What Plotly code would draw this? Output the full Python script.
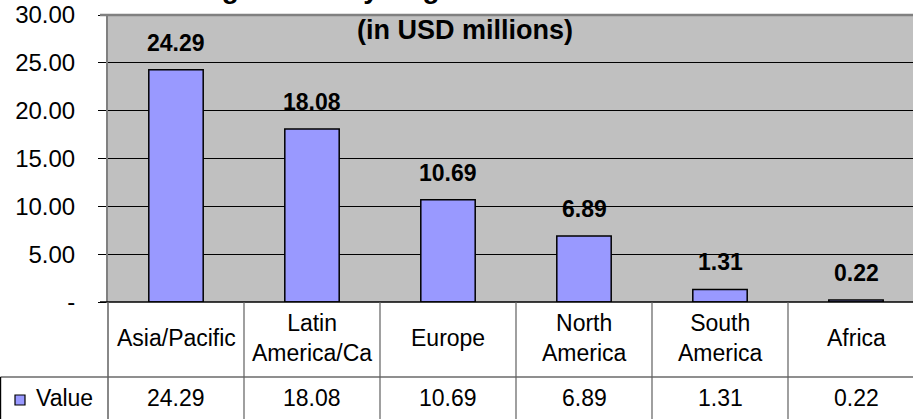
import plotly.graph_objects as go

# ---- data ----
categories = ["Asia/Pacific", "Latin America/Ca", "Europe", "North America", "South America", "Africa"]
table_labels = ["Asia/Pacific", "Latin<br>America/Ca", "Europe", "North<br>America", "South<br>America", "Africa"]
values = [24.29, 18.08, 10.69, 6.89, 1.31, 0.22]
series_name = "Value"
y_tickvals = [0, 5, 10, 15, 20, 25, 30]
y_ticktext = ["-", "5.00", "10.00", "15.00", "20.00", "25.00", "30.00"]
title_line1 = "Venture Funding Raised by Region"
title_line2 = "(in USD millions)"

# ---- layout constants (pixels) ----
W, H = 913, 419
L, T = 108, 15
PLOT_BOTTOM = 302
B = H - PLOT_BOTTOM
PW = W - L
PH = PLOT_BOTTOM - T
COL_W = 136.0
ROW1_BOTTOM = 377

FONT = "Liberation Sans, Arial, sans-serif"
BAR_COLOR = "#9999FF"
TABLE_LINE = "#606060"

def py(pix):
    """pixel y (from top) -> paper y"""
    return (PLOT_BOTTOM - pix) / PH

def px(pix):
    """pixel x (from left) -> paper x"""
    return (pix - L) / PW

xs = list(range(len(categories)))

fig = go.Figure()
fig.add_trace(go.Bar(
    x=xs, y=values, width=0.4,
    marker=dict(color=BAR_COLOR, line=dict(color="black", width=1.5)),
    name=series_name, showlegend=False, hoverinfo="skip",
))

annotations = []
# data labels
for xi, v in zip(xs, values):
    annotations.append(dict(
        x=xi, y=v, xref="x", yref="y", text=f"<b>{v:.2f}</b>", showarrow=False,
        yanchor="bottom", xanchor="center", yshift=12,
        font=dict(family=FONT, size=23, color="black")))
# table category row
for xi, lab in zip(xs, table_labels):
    annotations.append(dict(
        x=xi, y=py((PLOT_BOTTOM + ROW1_BOTTOM) / 2 - 1.5), xref="x", yref="paper", text=lab,
        showarrow=False, yanchor="middle", xanchor="center",
        font=dict(family=FONT, size=23, color="black")))
# table value row
for xi, v in zip(xs, values):
    annotations.append(dict(
        x=xi, y=py(398), xref="x", yref="paper", text=f"{v:.2f}",
        showarrow=False, yanchor="middle", xanchor="center",
        font=dict(family=FONT, size=23, color="black")))
# legend text in table
annotations.append(dict(
    x=px(34), y=py(398), xref="paper", yref="paper", text=series_name,
    showarrow=False, yanchor="middle", xanchor="left",
    font=dict(family=FONT, size=23, color="black")))
# titles
annotations.append(dict(
    x=px(16), y=1, xref="paper", yref="paper", text=f"<b>{title_line1}</b>",
    showarrow=False, yanchor="bottom", xanchor="left", yshift=9,
    font=dict(family=FONT, size=28, color="black")))
annotations.append(dict(
    x=px(465), y=1, xref="paper", yref="paper", text=f"<b>{title_line2}</b>",
    showarrow=False, yanchor="top", xanchor="center", yshift=2,
    font=dict(family=FONT, size=27, color="black")))

shapes = []
# top border of plot area
shapes.append(dict(type="line", xref="paper", yref="paper", x0=px(100), x1=1.01, y0=1, y1=1,
                   line=dict(color="#808080", width=2.5)))
# table horizontal line between rows
shapes.append(dict(type="line", xref="paper", yref="paper", x0=px(0.5), x1=1.01,
                   y0=py(ROW1_BOTTOM), y1=py(ROW1_BOTTOM), line=dict(color="#202020", width=1.2)))
# zero line across table top
shapes.append(dict(type="line", xref="paper", yref="paper", x0=px(100), x1=1.01,
                   y0=0, y1=0, line=dict(color="black", width=1.3)))
# table vertical lines at category boundaries
for k in range(len(categories)):
    xb = k + 0.5
    shapes.append(dict(type="line", xref="x", yref="paper", x0=xb, x1=xb,
                       y0=0, y1=py(H + 5), line=dict(color=TABLE_LINE, width=1.2)))
# y-axis continuation into table
shapes.append(dict(type="line", xref="paper", yref="paper", x0=0, x1=0,
                   y0=0, y1=py(H + 5), line=dict(color=TABLE_LINE, width=1.5)))
# legend cell left border
shapes.append(dict(type="line", xref="paper", yref="paper", x0=px(0.6), x1=px(0.6),
                   y0=py(ROW1_BOTTOM), y1=py(H + 5), line=dict(color="black", width=1.2)))
# legend key
shapes.append(dict(type="rect", xref="paper", yref="paper", x0=px(15), x1=px(25),
                   y0=py(405), y1=py(395), fillcolor=BAR_COLOR, line=dict(color="black", width=1.2)))

fig.update_layout(
    width=W, height=H,
    margin=dict(l=L, r=0, t=T, b=B, pad=0),
    paper_bgcolor="white", plot_bgcolor="#C0C0C0",
    showlegend=False,
    font=dict(family=FONT, size=22, color="black"),
    bargap=0.6,
    annotations=annotations, shapes=shapes,
)
fig.update_xaxes(
    range=[-0.5, -0.5 + PW / COL_W], showticklabels=False, showgrid=False,
    zeroline=False, showline=False, ticks="", fixedrange=True,
)
fig.update_yaxes(
    range=[0, 30], tickvals=y_tickvals, ticktext=y_ticktext,
    showgrid=True, gridcolor="black", gridwidth=1,
    zeroline=False, showline=True, linecolor="#808080", linewidth=2,
    ticks="outside", ticklen=8, tickcolor="black", tickwidth=1,
    ticklabelstandoff=18,
    tickfont=dict(family=FONT, size=24, color="black"), fixedrange=True,
)

fig.write_html("out.html")
